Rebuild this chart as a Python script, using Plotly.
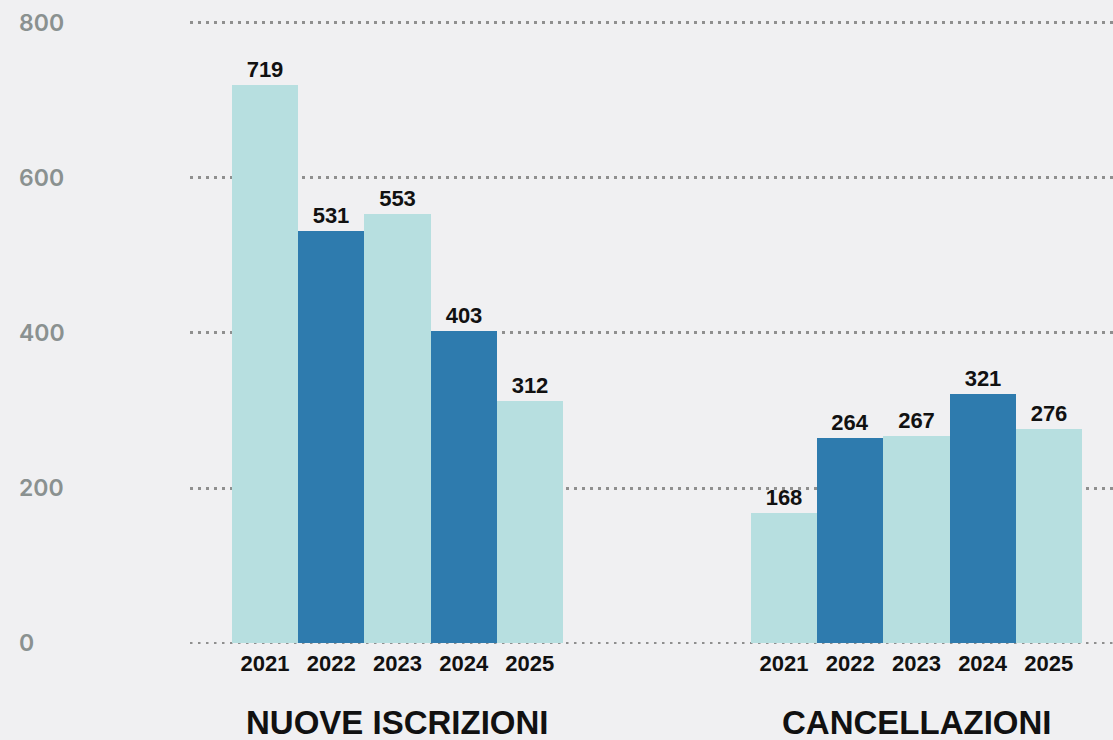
import plotly.graph_objects as go

groups = ["NUOVE ISCRIZIONI", "CANCELLAZIONI"]
years = ["2021", "2022", "2023", "2024", "2025"]
nuove = [719, 531, 553, 403, 312]
cancellazioni = [168, 264, 267, 321, 276]
y_ticks = [0, 200, 400, 600, 800]

light = "#b7dfe0"
dark = "#2e7bae"
colors = [light, dark, light, dark, light]

group_offset = 7.84  # distance between first bars of the two groups
grid_style = dict(color="#8f8f8f", width=2.5, dash="2.5px,5.5px")

fig = go.Figure()

tickvals, ticktext = [], []
for g, values in enumerate([nuove, cancellazioni]):
    xs = [g * group_offset + i for i in range(len(years))]
    tickvals += xs
    ticktext += years
    fig.add_trace(go.Bar(
        x=xs,
        y=values,
        width=1,
        marker=dict(color=colors, line=dict(width=0)),
        text=[str(v) for v in values],
        textposition="outside",
        textfont=dict(family="Liberation Sans, Arial, sans-serif", size=22, color="#111111", weight="bold"),
        cliponaxis=False,
        showlegend=False,
        hoverinfo="skip",
    ))
    # group label under the years
    fig.add_annotation(
        x=g * group_offset + 2, xref="x",
        y=-0.126, yref="paper",
        text=groups[g],
        showarrow=False,
        font=dict(family="Liberation Sans, Arial, sans-serif", size=33, color="#111111", weight="bold"),
        xanchor="center", yanchor="middle",
    )

# y labels are left aligned at the page edge
for v in y_ticks:
    fig.add_annotation(
        x=-0.187, xref="paper",
        y=v, yref="y",
        text=str(v),
        showarrow=False,
        font=dict(family="Inter, sans-serif", size=23, color="#8a9190", weight=600),
        xanchor="left", yanchor="middle",
    )

# plotly skips the grid line at zero, so draw the baseline dotted line by hand
fig.add_shape(type="line", xref="paper", x0=0, x1=1, yref="y", y0=y_ticks[0], y1=y_ticks[0],
              line=grid_style, layer="below")

fig.update_layout(
    width=1113, height=740,
    margin=dict(l=190, r=0, t=21, b=96),
    paper_bgcolor="#f0f0f2",
    plot_bgcolor="#f0f0f2",
    bargap=0,
    xaxis=dict(
        range=[-1.134, 12.81],
        tickvals=tickvals,
        ticktext=ticktext,
        showgrid=False, zeroline=False, showline=False,
        ticks="", ticklabelstandoff=4,
        tickfont=dict(family="Liberation Sans, Arial, sans-serif", size=22, color="#111111", weight="bold"),
    ),
    yaxis=dict(
        range=[-1, 802],
        tickvals=y_ticks,
        showticklabels=False,
        showgrid=True, gridcolor=grid_style["color"], gridwidth=grid_style["width"],
        griddash=grid_style["dash"],
        zeroline=False, showline=False,
    ),
)

fig.write_html("out.html", config={"displayModeBar": False},
               post_script="document.body.style.margin='0';")
